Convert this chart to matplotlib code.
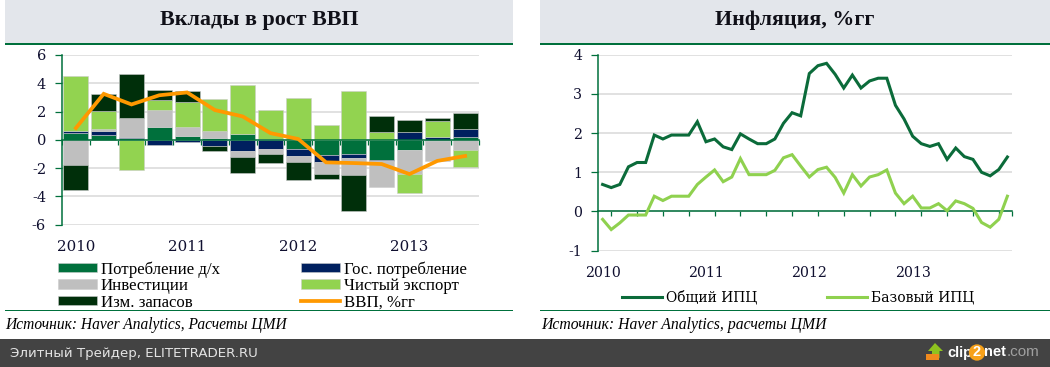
import numpy as np
import matplotlib
matplotlib.use("Agg")
import matplotlib.pyplot as plt
from matplotlib.patches import Rectangle, Polygon

plt.rcParams["axes.unicode_minus"] = False

W, H = 1050, 367
SERIF = "Liberation Serif"
DIGITS = "DejaVu Serif"

# ---------- data ----------
quarters = np.arange(15)
year_labels = ["2010", "2011", "2012", "2013"]
consumption = [0.47, 0.35, 0.10, 0.87, 0.25, 0.10, 0.40, 0.02, -0.67, -1.09, -1.00, -1.42, -0.75, -0.12, 0.22]
government = [0.17, 0.30, 0.10, -0.35, -0.13, -0.47, -0.80, -0.65, -0.50, -0.50, -0.28, -0.07, 0.55, 0.22, 0.55]
investment = [-1.82, 0.10, 1.35, 1.25, 0.65, 0.55, -0.40, -0.33, -0.42, -0.85, -1.23, -1.87, -1.68, -1.38, -0.75]
net_export = [3.90, 1.30, -2.15, 0.70, 1.80, 2.25, 3.45, 2.10, 2.95, 1.05, 3.47, 0.55, -1.35, 1.13, -1.20]
inventories = [-1.73, 1.18, 3.10, 0.70, 0.75, -0.30, -1.13, -0.65, -1.25, -0.33, -2.50, 1.15, 0.83, 0.22, 1.15]
gdp = [0.83, 3.25, 2.50, 3.15, 3.35, 2.10, 1.65, 0.47, 0.05, -1.60, -1.65, -1.72, -2.43, -1.50, -1.15]

months = np.arange(48)
cpi = [0.69, 0.61, 0.69, 1.14, 1.25, 1.25, 1.95, 1.85, 1.95, 1.95, 1.95, 2.29,
       1.78, 1.85, 1.65, 1.58, 1.98, 1.85, 1.73, 1.73, 1.85, 2.25, 2.52, 2.44,
       3.52, 3.72, 3.78, 3.50, 3.15, 3.48, 3.15, 3.33, 3.40, 3.40, 2.71, 2.36,
       1.92, 1.73, 1.66, 1.73, 1.33, 1.62, 1.40, 1.33, 1.00, 0.91, 1.07, 1.39]
core = [-0.20, -0.46, -0.29, -0.09, -0.09, -0.09, 0.39, 0.28, 0.39, 0.39, 0.39, 0.69,
        0.88, 1.06, 0.76, 0.88, 1.35, 0.94, 0.94, 0.94, 1.05, 1.37, 1.45, 1.16,
        0.88, 1.07, 1.13, 0.87, 0.47, 0.94, 0.65, 0.88, 0.94, 1.06, 0.47, 0.20,
        0.39, 0.09, 0.09, 0.20, 0.02, 0.27, 0.20, 0.08, -0.28, -0.40, -0.20, 0.39]

GREEN = "#00703c"
NAVY = "#00205f"
GRAY = "#bfbfbf"
LIME = "#92d350"
DARK = "#002f0a"
ORANGE = "#ff9900"
GRID = "#d9d9d9"
INK = "#101030"

fig = plt.figure(figsize=(W / 100, H / 100), dpi=100, facecolor="white")


def px_rect(x0, y0, x1, y1, color, z=0):
    fig.add_artist(Rectangle((x0 / W, 1 - y1 / H), (x1 - x0) / W, (y1 - y0) / H,
                             transform=fig.transFigure, fc=color, ec="none", zorder=z))


def px_text(x, y, s, **kw):
    kw.setdefault("va", "center")
    fig.text(x / W, 1 - y / H, s, **kw)


def px_axes(x0, y0, x1, y1):
    return fig.add_axes([x0 / W, 1 - y1 / H, (x1 - x0) / W, (y1 - y0) / H], facecolor="none")


# ---------- page furniture ----------
px_rect(5, 0, 513, 43, "#e3e6eb")
px_rect(540, 0, 1050, 43, "#e3e6eb")
px_rect(5, 43, 513, 44.7, GREEN)
px_rect(540, 43, 1050, 44.7, GREEN)
px_rect(5, 310, 513, 310.8, GREEN)
px_rect(540, 310, 1050, 310.8, GREEN)
px_rect(0, 339, 1050, 367, "#434343")

px_text(259, 20, "Вклады в рост ВВП", family=SERIF, weight="bold", size=15.8, ha="center", color="#101018")
px_text(795, 20, "Инфляция, %гг", family=SERIF, weight="bold", size=15.8, ha="center", color="#101018")
px_text(5, 325, "Источник: Haver Analytics, Расчеты ЦМИ", family=SERIF, style="italic", size=11.2, color="black")
px_text(541, 325, "Источник: Haver Analytics, расчеты ЦМИ", family=SERIF, style="italic", size=11.3, color="black")
px_text(10, 353, "Элитный Трейдер, ELITETRADER.RU", family="DejaVu Sans", size=9.6, color="#e4e4e4")

# clip2net mark
fig.add_artist(Polygon([[(927 + dx) / W, 1 - y / H] for dx, y in
                        [(8, 343), (16, 351), (12.5, 351), (12.5, 358), (5, 358), (5, 351), (1, 351)]],
                       transform=fig.transFigure, fc="#8fc31f", ec="none", zorder=1))
px_rect(926, 354, 939, 360, "#f08a1d", z=2)
px_text(947, 352.5, "clip", family="Liberation Sans", weight="bold", size=10.5, color="white")
px_text(977, 352.5, "2", family="Liberation Sans", weight="bold", size=10.5, color="white", ha="center",
        bbox=dict(boxstyle="circle,pad=0.08", fc="#f7a11a", ec="none"))
px_text(984, 352.5, "net", family="Liberation Sans", weight="bold", size=10.5, color="white")
px_text(1007, 352.5, ".com", family="Liberation Sans", size=11, color="#a0a0a0")

# ---------- left chart ----------
ax = px_axes(62, 55, 479, 224.5)
series = [("Потребление д/х", consumption, GREEN), ("Гос. потребление", government, NAVY),
          ("Инвестиции", investment, GRAY), ("Чистый экспорт", net_export, LIME),
          ("Изм. запасов", inventories, DARK)]
pos = np.zeros(15)
neg = np.zeros(15)
handles = {}
for name, vals, col in series:
    v = np.array(vals)
    bottoms = np.where(v >= 0, pos, neg)
    handles[name] = ax.bar(quarters, v, bottom=bottoms, width=0.9, color=col,
                           edgecolor=(0.8, 0.8, 0.8, 0.55), linewidth=0.7, zorder=2, label=name)
    pos += np.where(v >= 0, v, 0)
    neg += np.where(v < 0, v, 0)
line_gdp, = ax.plot(quarters, gdp, color=ORANGE, lw=2.7, zorder=4, solid_joinstyle="miter", label="ВВП, %гг")

ax.set_xlim(-0.5, 14.5)
ax.set_ylim(-6, 6)
ax.set_yticks(np.arange(-6, 7, 2))
ax.set_xticks(np.arange(-0.5, 14.6, 1))
ax.tick_params(axis="x", labelbottom=False, direction="out", length=3.5, width=0.9, color=GREEN)
ax.tick_params(axis="y", direction="out", length=5, width=0.9, color=GREEN, pad=6.5,
               labelsize=10.5, labelcolor=INK)
for t in ax.get_yticklabels():
    t.set_family(DIGITS)
ax.grid(axis="y", color=GRID, lw=1.1, zorder=0)
ax.set_axisbelow(True)
for s in ("top", "right"):
    ax.spines[s].set_visible(False)
ax.spines["bottom"].set_position(("data", 0))
ax.spines["bottom"].set_color(GREEN)
ax.spines["bottom"].set_linewidth(1.1)
ax.spines["bottom"].set_zorder(3)
ax.spines["left"].set_color(GREEN)
ax.spines["left"].set_linewidth(1.1)
for lab, q in zip(year_labels, quarters[::4]):
    ax.text(q, -7.6, lab, ha="center", va="center", family=DIGITS, size=10.8, color=INK, clip_on=False)

order = ["Потребление д/х", "Инвестиции", "Изм. запасов", "Гос. потребление", "Чистый экспорт"]
leg_h = [handles[n] for n in order] + [line_gdp]
leg_l = order + ["ВВП, %гг"]
fig.legend(leg_h, leg_l, ncol=2, loc="upper left", bbox_to_anchor=(58 / W, 1 - 261 / H),
           frameon=False, prop={"family": SERIF, "size": 12.1}, handlelength=2.32, handleheight=0.5,
           handletextpad=0.24, labelspacing=0.03, columnspacing=4.82, borderpad=0, borderaxespad=0)

# ---------- right chart ----------
ax2 = px_axes(598.3, 54.7, 1011.7, 250.7)
l1, = ax2.plot(months, cpi, color="#0b6b3a", lw=2.2, zorder=4, solid_joinstyle="miter", label="Общий ИПЦ")
l2, = ax2.plot(months, core, color="#8fd14f", lw=2.2, zorder=3, solid_joinstyle="miter", label="Базовый ИПЦ")
ax2.set_xlim(-0.5, 47.5)
ax2.set_ylim(-1, 4)
ax2.set_yticks(np.arange(-1, 5))
ax2.set_xticks(list(np.arange(1, 47, 3)) + [47.5])
ax2.tick_params(axis="x", labelbottom=False, direction="out", length=3.5, width=0.9, color=GREEN)
ax2.tick_params(axis="y", direction="out", length=5, width=0.9, color=GREEN, pad=6.5,
                labelsize=10.2, labelcolor=INK)
for t in ax2.get_yticklabels():
    t.set_family(DIGITS)
ax2.grid(axis="y", color=GRID, lw=1.1, zorder=0)
ax2.set_axisbelow(True)
for s in ("top", "right"):
    ax2.spines[s].set_visible(False)
ax2.spines["bottom"].set_position(("data", 0))
ax2.spines["bottom"].set_color(GREEN)
ax2.spines["bottom"].set_linewidth(1.1)
ax2.spines["left"].set_color(GREEN)
ax2.spines["left"].set_linewidth(1.1)
for lab, m in zip(year_labels, months[::12]):
    ax2.text(m, -1.58, lab, ha="center", va="center", family=DIGITS, size=10.2, color=INK, clip_on=False)

fig.legend([l1, l2], ["Общий ИПЦ", "Базовый ИПЦ"], ncol=2, loc="upper left",
           bbox_to_anchor=(622 / W, 1 - 290 / H), frameon=False,
           prop={"family": "DejaVu Serif", "size": 10}, handlelength=2.85, handletextpad=0.3,
           columnspacing=5.05, borderpad=0, borderaxespad=0)

fig.savefig("out.png", dpi=100, facecolor="white")
